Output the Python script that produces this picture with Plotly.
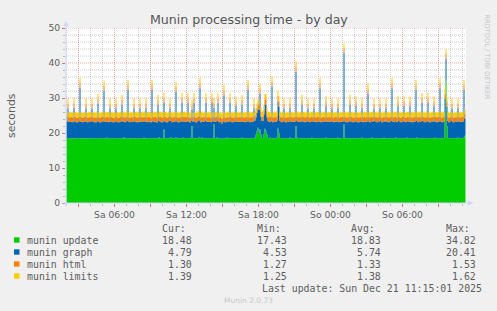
import pandas as pd
import plotly.graph_objects as go

# ---------------- data (5-minute samples, starting Sa 2025-12-20 02:00) ----------------
update_rows = [
    [18.6,18.5,18.4,18.5,18.6,18.5, 18.4,18.5,18.5,18.6,18.4,18.5, 18.5,18.6,18.5,18.4,18.5,18.6, 18.5,18.5,18.4,18.5,18.6,18.5],
    [18.5,18.4,18.6,18.5,18.5,18.3, 18.5,18.6,18.5,18.4,18.5,18.5, 18.6,18.5,18.4,18.5,18.7,18.5, 18.4,18.5,18.6,18.5,18.5,18.4],
    [18.5,18.6,18.5,18.4,18.5,18.5, 18.6,18.5,18.4,18.8,18.5,18.5, 18.6,18.4,18.5,18.5,18.6,18.5, 18.5,18.4,18.5,18.6,18.5,18.5],
    [18.4,18.5,18.6,18.5,18.5,18.7, 18.5,18.4,18.5,18.6,18.5,18.5, 18.4,18.6,18.5,18.5,18.6,18.5, 18.4,18.5,18.8,18.5,18.6,18.5],
    [18.5,21.0,18.6,18.5,18.4,18.5, 18.6,18.5,18.7,18.5,18.4,18.5, 18.6,18.8,18.5,18.5,18.4,18.6, 18.5,18.5,18.7,18.5,18.6,18.5],
    [18.5,18.6,18.5,18.4,18.6,22.0, 18.5,18.6,18.5,18.4,18.5,18.6, 18.8,18.5,18.5,18.7,18.5,18.5, 18.6,18.4,18.5,18.6,18.5,18.5],
    [18.4,18.6,18.5,22.5,18.6,18.5, 18.7,18.5,18.4,18.5,18.6,18.0, 18.5,18.6,18.4,18.5,18.7,18.5, 18.6,18.5,18.5,18.4,18.5,18.6],
    [18.5,18.6,18.4,18.5,18.6,18.5, 18.5,18.7,18.5,18.4,18.5,18.6, 18.5,18.5,18.6,18.5,18.4,18.6, 18.5,18.5,18.7,19.5,20.5,21.5],
    [20.0,21.0,19.5,18.6,18.5,19.8, 21.2,20.5,19.5,18.6,18.5,18.7, 18.5,18.6,18.4,18.5,18.6,18.5, 18.7,21.3,20.0,18.6,18.5,18.5],
    [18.5,18.6,18.5,18.4,18.6,18.5, 18.5,18.7,18.5,18.6,18.5,18.4, 18.6,22.0,18.7,18.5,18.6,18.5, 18.5,18.4,18.6,18.5,18.5,18.6],
    [18.5,18.4,18.6,18.5,18.5,18.7, 18.5,18.6,18.4,18.5,18.6,18.5, 18.5,18.6,18.5,18.4,18.6,18.5, 18.5,18.7,18.5,18.6,18.5,18.5],
    [18.6,18.5,18.4,18.5,18.6,18.5, 18.5,18.7,18.5,18.4,18.6,18.5, 18.5,22.5,18.6,18.5,18.5,18.4, 18.6,18.5,18.5,18.6,18.5,18.4],
    [18.5,18.6,18.5,18.5,18.4,18.6, 18.5,18.7,18.5,18.5,18.6,18.4, 18.5,18.5,18.6,18.5,18.5,18.7, 18.5,18.4,18.6,18.5,18.5,18.6],
    [18.5,18.5,18.6,18.4,18.5,18.7, 18.5,18.5,18.6,18.5,18.4,18.5, 18.6,18.5,18.5,18.6,18.5,18.7, 18.4,18.5,18.6,18.5,18.5,18.5],
    [18.6,18.5,18.4,18.5,18.7,18.5, 18.5,18.6,18.5,18.5,18.4,18.6, 18.5,18.5,18.7,18.5,18.6,18.5, 18.5,18.4,18.6,18.5,18.5,18.6],
    [18.5,18.6,18.5,18.4,18.5,18.6, 18.5,18.5,18.7,18.5,18.4,18.6, 18.5,18.5,18.6,18.5,18.5,18.6, 24.0,34.82,22.0,18.6,18.5,18.5],
    [18.6,18.5,18.4,18.5,18.6,18.5, 18.5,18.7,18.5,18.6,18.5,18.5, 18.6,18.7,19.2,18.48],
]
graph_rows = [
    [4.7,8.6,4.8,4.7,4.6,4.8, 4.7,8.7,4.8,4.7,4.6,4.7, 4.8,14.3,4.7,4.8,4.6,4.7, 4.8,8.6,4.7,4.6,4.8,4.7],
    [4.8,8.7,4.7,4.6,4.8,4.7, 4.8,9.8,4.7,4.6,4.7,4.8, 4.7,13.6,4.8,4.7,4.6,4.8, 4.7,8.6,4.7,4.8,4.6,4.7],
    [4.7,8.5,4.8,4.7,4.6,4.8, 4.7,9.6,4.8,4.7,4.6,4.7, 4.8,13.9,4.7,4.6,4.8,4.7, 4.7,8.7,4.8,4.7,4.6,4.8],
    [4.7,8.6,4.6,4.8,4.7,4.8, 4.7,8.7,4.6,4.7,4.8,4.7, 4.6,13.7,4.8,4.7,4.7,4.8, 4.6,9.6,4.7,4.8,4.7,4.53],
    [4.8,7.6,4.7,4.8,4.6,4.7, 4.8,8.6,4.7,4.6,4.8,4.7, 4.7,13.0,4.8,4.6,4.7,4.8, 4.7,10.1,4.6,4.8,4.7,4.7],
    [4.8,10.0,4.7,4.6,4.8,4.7, 4.7,10.0,4.8,4.6,4.7,4.8, 4.7,14.3,4.6,4.8,4.7,4.7, 4.8,10.2,4.7,4.6,4.8,4.7],
    [4.7,10.0,4.8,4.7,4.6,4.8, 4.7,10.1,4.7,4.8,4.6,4.7, 4.8,12.2,4.7,4.6,4.8,4.7, 4.7,10.1,4.8,4.7,4.6,4.8],
    [4.7,9.1,4.8,4.7,4.6,4.8, 4.7,9.4,4.7,4.8,4.6,4.7, 4.8,13.8,4.7,4.6,4.8,4.7, 4.7,8.6,4.8,4.9,5.2,5.6],
    [6.6,10.3,5.2,4.8,4.9,5.5, 7.0,7.6,5.0,4.8,4.7,4.6, 4.8,14.7,4.7,4.8,4.6,4.7, 4.9,7.8,7.5,4.8,4.7,4.6],
    [4.8,8.5,4.7,4.6,4.8,4.7, 4.7,8.4,4.8,4.6,4.7,4.8, 4.7,15.6,4.8,4.7,4.6,4.8, 4.7,9.7,4.7,4.8,4.6,4.7],
    [4.8,8.7,4.7,4.6,4.8,4.7, 4.7,8.5,4.8,4.6,4.7,4.8, 4.7,14.2,4.6,4.8,4.7,4.7, 4.8,9.0,4.7,4.6,4.8,4.7],
    [4.7,8.6,4.8,4.6,4.7,4.8, 4.7,8.4,4.6,4.8,4.7,4.7, 4.8,20.41,4.7,4.6,4.8,4.7, 4.7,9.6,4.8,4.7,4.6,4.8],
    [4.7,9.1,4.8,4.6,4.7,4.8, 4.7,8.4,4.6,4.8,4.7,4.7, 4.8,12.8,4.7,4.6,4.8,4.7, 4.7,8.6,4.8,4.7,4.6,4.8],
    [4.7,8.6,4.8,4.6,4.7,4.8, 4.7,8.6,4.6,4.8,4.7,4.7, 4.8,14.3,4.7,4.6,4.8,4.7, 4.7,9.2,4.8,4.7,4.6,4.8],
    [4.7,9.2,4.8,4.6,4.7,4.8, 4.7,9.1,4.6,4.8,4.7,4.7, 4.8,13.8,4.7,4.6,4.8,4.7, 4.7,10.2,4.8,4.7,4.6,4.8],
    [4.7,10.0,4.8,4.6,4.7,4.8, 4.7,9.2,4.6,4.8,4.7,4.7, 4.8,14.3,4.7,4.6,4.8,4.7, 5.8,6.3,5.5,4.8,4.6,4.7],
    [4.8,8.6,4.7,4.6,4.8,4.7, 4.7,8.4,4.8,4.6,4.7,4.8, 4.7,13.6,4.9,4.79],
]
html_rows = [
    [1.30,1.34,1.29,1.31,1.30,1.28, 1.31,1.33,1.30,1.29,1.31,1.30, 1.28,1.38,1.30,1.31,1.29,1.30, 1.32,1.34,1.30,1.28,1.31,1.30],
    [1.31,1.33,1.30,1.28,1.30,1.31, 1.29,1.35,1.30,1.31,1.28,1.30, 1.31,1.37,1.29,1.30,1.31,1.28, 1.30,1.33,1.31,1.30,1.29,1.31],
    [1.29,1.34,1.31,1.30,1.28,1.30, 1.31,1.34,1.29,1.30,1.31,1.30, 1.29,1.39,1.31,1.28,1.30,1.31, 1.29,1.33,1.30,1.31,1.28,1.30],
    [1.30,1.33,1.28,1.31,1.30,1.29, 1.30,1.34,1.31,1.28,1.30,1.31, 1.30,1.38,1.29,1.31,1.30,1.28, 1.31,1.35,1.29,1.30,1.31,1.30],
    [1.31,1.36,1.29,1.30,1.31,1.28, 1.30,1.33,1.29,1.31,1.30,1.29, 1.31,1.37,1.30,1.28,1.31,1.30, 1.29,1.35,1.31,1.30,1.28,1.30],
    [1.30,1.34,1.31,1.29,1.30,1.32, 1.28,1.35,1.30,1.31,1.29,1.30, 1.28,1.39,1.31,1.30,1.29,1.31, 1.30,1.34,1.28,1.31,1.30,1.29],
    [1.31,1.35,1.30,1.33,1.29,1.31, 1.30,1.34,1.28,1.30,1.31,1.29, 1.30,1.37,1.31,1.28,1.30,1.29, 1.31,1.33,1.30,1.31,1.29,1.30],
    [1.29,1.33,1.31,1.30,1.28,1.31, 1.30,1.34,1.29,1.31,1.30,1.28, 1.30,1.38,1.29,1.31,1.30,1.31, 1.29,1.34,1.31,1.32,1.33,1.35],
    [1.34,1.40,1.33,1.31,1.32,1.38, 1.45,1.48,1.33,1.30,1.31,1.29, 1.30,1.39,1.31,1.29,1.30,1.31, 1.33,1.46,1.42,1.30,1.29,1.31],
    [1.30,1.34,1.29,1.31,1.30,1.28, 1.31,1.33,1.30,1.29,1.31,1.30, 1.28,1.42,1.30,1.31,1.29,1.30, 1.32,1.35,1.30,1.28,1.31,1.30],
    [1.31,1.33,1.30,1.28,1.30,1.31, 1.29,1.34,1.30,1.31,1.28,1.30, 1.31,1.38,1.29,1.30,1.31,1.28, 1.30,1.34,1.31,1.30,1.29,1.31],
    [1.29,1.34,1.31,1.30,1.28,1.30, 1.31,1.33,1.29,1.30,1.31,1.30, 1.29,1.33,1.31,1.28,1.30,1.31, 1.29,1.35,1.30,1.31,1.28,1.30],
    [1.30,1.34,1.28,1.31,1.30,1.29, 1.30,1.33,1.31,1.28,1.30,1.31, 1.30,1.37,1.29,1.31,1.30,1.28, 1.31,1.33,1.29,1.30,1.31,1.30],
    [1.31,1.33,1.29,1.30,1.31,1.28, 1.30,1.33,1.29,1.31,1.30,1.29, 1.31,1.38,1.30,1.28,1.31,1.30, 1.29,1.34,1.31,1.30,1.28,1.30],
    [1.30,1.34,1.31,1.29,1.30,1.32, 1.28,1.34,1.30,1.31,1.29,1.30, 1.28,1.37,1.31,1.30,1.29,1.31, 1.30,1.35,1.28,1.31,1.30,1.29],
    [1.31,1.35,1.30,1.29,1.29,1.31, 1.30,1.34,1.28,1.30,1.31,1.29, 1.30,1.38,1.31,1.28,1.30,1.29, 1.45,1.53,1.40,1.31,1.29,1.30],
    [1.29,1.33,1.31,1.30,1.28,1.31, 1.30,1.34,1.29,1.31,1.30,1.28, 1.30,1.37,1.31,1.30],
]
limits_rows = [
    [1.38,1.44,1.36,1.39,1.37,1.40, 1.38,1.43,1.37,1.39,1.36,1.38, 1.40,1.48,1.37,1.38,1.39,1.36, 1.38,1.45,1.37,1.40,1.38,1.39],
    [1.37,1.45,1.39,1.36,1.38,1.40, 1.37,1.46,1.38,1.36,1.39,1.37, 1.38,1.49,1.36,1.39,1.38,1.40, 1.37,1.44,1.38,1.36,1.39,1.38],
    [1.39,1.43,1.37,1.38,1.40,1.36, 1.38,1.45,1.39,1.37,1.38,1.36, 1.40,1.47,1.38,1.37,1.39,1.38, 1.36,1.44,1.37,1.39,1.38,1.40],
    [1.38,1.44,1.40,1.37,1.38,1.39, 1.36,1.43,1.38,1.40,1.37,1.38, 1.39,1.48,1.36,1.38,1.37,1.39, 1.38,1.46,1.40,1.37,1.38,1.36],
    [1.37,1.47,1.38,1.39,1.36,1.38, 1.40,1.44,1.37,1.38,1.39,1.36, 1.38,1.48,1.39,1.37,1.38,1.40, 1.36,1.45,1.38,1.39,1.37,1.38],
    [1.39,1.45,1.37,1.38,1.40,1.43, 1.38,1.46,1.36,1.39,1.38,1.37, 1.40,1.49,1.38,1.36,1.39,1.38, 1.37,1.45,1.39,1.38,1.36,1.40],
    [1.38,1.44,1.39,1.44,1.38,1.37, 1.40,1.45,1.38,1.36,1.39,1.38, 1.37,1.47,1.39,1.38,1.36,1.40, 1.38,1.44,1.37,1.39,1.38,1.37],
    [1.40,1.43,1.38,1.37,1.39,1.36, 1.38,1.45,1.37,1.39,1.38,1.40, 1.36,1.48,1.38,1.37,1.39,1.38, 1.40,1.44,1.38,1.41,1.43,1.45],
    [1.44,1.50,1.42,1.38,1.39,1.44, 1.52,1.55,1.40,1.37,1.38,1.39, 1.36,1.49,1.38,1.37,1.40,1.38, 1.41,1.54,1.48,1.38,1.37,1.39],
    [1.38,1.44,1.36,1.39,1.37,1.40, 1.38,1.43,1.37,1.39,1.36,1.38, 1.40,1.52,1.37,1.38,1.39,1.36, 1.38,1.45,1.37,1.40,1.38,1.39],
    [1.37,1.45,1.39,1.36,1.38,1.40, 1.37,1.44,1.38,1.36,1.39,1.37, 1.38,1.48,1.36,1.39,1.38,1.40, 1.37,1.45,1.38,1.36,1.39,1.38],
    [1.39,1.43,1.37,1.38,1.40,1.36, 1.38,1.44,1.39,1.37,1.38,1.36, 1.40,1.36,1.38,1.37,1.39,1.38, 1.36,1.46,1.37,1.39,1.38,1.40],
    [1.38,1.45,1.40,1.37,1.38,1.39, 1.36,1.44,1.38,1.40,1.37,1.38, 1.39,1.47,1.36,1.38,1.37,1.39, 1.38,1.44,1.40,1.37,1.38,1.36],
    [1.37,1.44,1.38,1.39,1.36,1.38, 1.40,1.44,1.37,1.38,1.39,1.36, 1.38,1.48,1.39,1.37,1.38,1.40, 1.36,1.45,1.38,1.39,1.37,1.38],
    [1.39,1.45,1.37,1.38,1.40,1.37, 1.38,1.45,1.36,1.39,1.38,1.37, 1.40,1.47,1.38,1.36,1.39,1.38, 1.37,1.46,1.39,1.38,1.36,1.40],
    [1.38,1.46,1.39,1.36,1.38,1.37, 1.40,1.45,1.38,1.36,1.39,1.38, 1.37,1.48,1.39,1.38,1.36,1.40, 1.45,1.25,1.42,1.39,1.38,1.37],
    [1.40,1.44,1.38,1.37,1.39,1.36, 1.38,1.45,1.37,1.39,1.38,1.40, 1.36,1.48,1.38,1.39],
]

series_names = ["munin update", "munin graph", "munin html", "munin limits"]
series_colors = ["#00CC00", "#0066B3", "#FF8000", "#FFCC00"]
stat_cur = ["18.48", "4.79", "1.30", "1.39"]
stat_min = ["17.43", "4.53", "1.27", "1.25"]
stat_avg = ["18.83", "5.74", "1.33", "1.38"]
stat_max = ["34.82", "20.41", "1.53", "1.62"]

x_tick_vals = ["2025-12-20 03:00", "2025-12-20 06:00", "2025-12-20 09:00", "2025-12-20 12:00",
               "2025-12-20 15:00", "2025-12-20 18:00", "2025-12-20 21:00", "2025-12-21 00:00",
               "2025-12-21 03:00", "2025-12-21 06:00", "2025-12-21 09:00"]
x_tick_text = ["", "Sa 06:00", "", "Sa 12:00", "", "Sa 18:00", "", "So 00:00", "", "So 06:00", ""]
y_tick_vals = [0, 10, 20, 30, 40, 50]

x_range = ["2025-12-20 01:57:30", "2025-12-21 11:17:30"]

update = sum(update_rows, [])
graph = sum(graph_rows, [])
html = sum(html_rows, [])
limits = sum(limits_rows, [])
n = min(len(update), len(graph), len(html), len(limits))
times = pd.date_range("2025-12-20 02:00", periods=n, freq="5min")

# ---------------- geometry helpers (pixel -> paper) ----------------
W, H = 497, 311
L, R, T, B = 66, 466, 28, 203


def px(x):
    return (x - L) / (R - L)


def py(y):
    return (B - y) / (B - T)


FONT = "DejaVu Sans"
MONO = "DejaVu Sans Mono"
TXT = "#5e5e5e"
AXIS_COL = "#CFD6F8"
MAJOR = "rgba(225,60,60,0.45)"
MINOR = "rgba(120,120,120,0.38)"
MAJOR_TICK = "rgba(225,60,60,0.6)"
MINOR_TICK = "rgba(120,120,120,0.45)"

fig = go.Figure()
for name, vals, col in zip(series_names, [update, graph, html, limits], series_colors):
    fig.add_trace(go.Scatter(
        x=times, y=vals[:n], name=name, mode="lines",
        line=dict(width=0, shape="hv"), stackgroup="one",
        fillcolor=col, showlegend=False, hoverinfo="skip"))

shapes = []
# dotted grid (hourly minor, 3-hourly major; 2 s minor, 10 s major)
for h in pd.date_range("2025-12-20 02:00", "2025-12-21 11:00", freq="h"):
    col = MAJOR if h.hour % 3 == 0 else MINOR
    shapes.append(dict(type="line", xref="x", yref="paper", x0=h, x1=h, y0=0, y1=1,
                       line=dict(color=col, width=1, dash="1px,1px"), layer="below"))
for v in range(2, 51, 2):
    col = MAJOR if v % 10 == 0 else MINOR
    shapes.append(dict(type="line", xref="paper", yref="y", x0=0, x1=1, y0=v, y1=v,
                       line=dict(color=col, width=1, dash="1px,1px"), layer="below"))

# axes lines with arrows
shapes.append(dict(type="line", xref="paper", yref="paper", x0=px(62), x1=px(469), y0=py(203), y1=py(203),
                   line=dict(color=AXIS_COL, width=1), layer="above"))
shapes.append(dict(type="line", xref="paper", yref="paper", x0=px(66), x1=px(66), y0=py(206), y1=py(24),
                   line=dict(color=AXIS_COL, width=1), layer="above"))
shapes.append(dict(type="path", xref="paper", yref="paper",
                   path=f"M {px(63.5)},{py(26)} L {px(68.5)},{py(26)} L {px(66)},{py(20.5)} Z",
                   fillcolor=AXIS_COL, line=dict(width=0), layer="above"))
shapes.append(dict(type="path", xref="paper", yref="paper",
                   path=f"M {px(468)},{py(200.5)} L {px(468)},{py(205.5)} L {px(473.5)},{py(203)} Z",
                   fillcolor=AXIS_COL, line=dict(width=0), layer="above"))

# legend swatches
row_y = [240, 252, 264, 276]
for yy, col in zip(row_y, series_colors):
    shapes.append(dict(type="rect", xref="paper", yref="paper",
                       x0=px(14), x1=px(19.5), y0=py(yy + 2.7), y1=py(yy - 2.7),
                       fillcolor=col, line=dict(width=0)))

ann = []


def text(x, y, s, size, color=TXT, family=FONT, xanchor="center", angle=0):
    ann.append(dict(x=px(x), y=py(y), xref="paper", yref="paper", text=s, showarrow=False,
                    xanchor=xanchor, yanchor="middle", textangle=angle, borderpad=0,
                    font=dict(family=family, size=size, color=color)))


text(248.5, 19.5, "Munin processing time - by day", 12.6, color="#555555")
text(11, 115, "seconds", 10.9, angle=-90)
text(486.5, 57, "RRDTOOL / TOBI OETIKER", 6.6, color="#C4C4C4", angle=90)

col_right = [193, 287.5, 382, 477]
head_right = [187, 281.5, 376, 471]
for xr, hdr in zip(head_right, ["Cur:", "Min:", "Avg:", "Max:"]):
    text(xr, 228.3, hdr, 9.9, family=MONO, xanchor="right")
for i, yy in enumerate(row_y):
    text(26, yy, series_names[i], 9.9, family=MONO, xanchor="left")
    for xr, vals in zip(col_right, [stat_cur, stat_min, stat_avg, stat_max]):
        text(xr, yy, vals[i], 9.9, family=MONO, xanchor="right")
text(482.5, 288, "Last update: Sun Dec 21 11:15:01 2025", 9.9, family=MONO, xanchor="right")
text(248.5, 300.5, "Munin 2.0.73", 7.5, color="#C8C8C8")

fig.update_layout(
    width=W, height=H, autosize=False,
    margin=dict(l=L, r=W - R, t=T, b=H - B, pad=0),
    paper_bgcolor="#F0F0F0", plot_bgcolor="#FFFFFF",
    shapes=shapes, annotations=ann, showlegend=False,
    xaxis=dict(type="date", range=x_range, showgrid=False, zeroline=False, showline=False,
               tickmode="array", tickvals=x_tick_vals, ticktext=x_tick_text,
               ticks="outside", ticklen=3, tickcolor=MAJOR_TICK, tickwidth=1,
               tickfont=dict(family=FONT, size=9.2, color=TXT),
               minor=dict(ticks="outside", ticklen=2, tickcolor=MINOR_TICK, dtick=3600000,
                          tick0="2025-12-20 00:00", showgrid=False)),
    yaxis=dict(range=[0, 50], showgrid=False, zeroline=False, showline=False,
               tickmode="array", tickvals=y_tick_vals,
               ticks="outside", ticklen=3, tickcolor=MAJOR_TICK, tickwidth=1,
               tickfont=dict(family=FONT, size=9.2, color=TXT),
               minor=dict(ticks="outside", ticklen=2, tickcolor=MINOR_TICK, dtick=2, tick0=0, showgrid=False)),
)

fig.write_html("out.html", config={"displayModeBar": False})
